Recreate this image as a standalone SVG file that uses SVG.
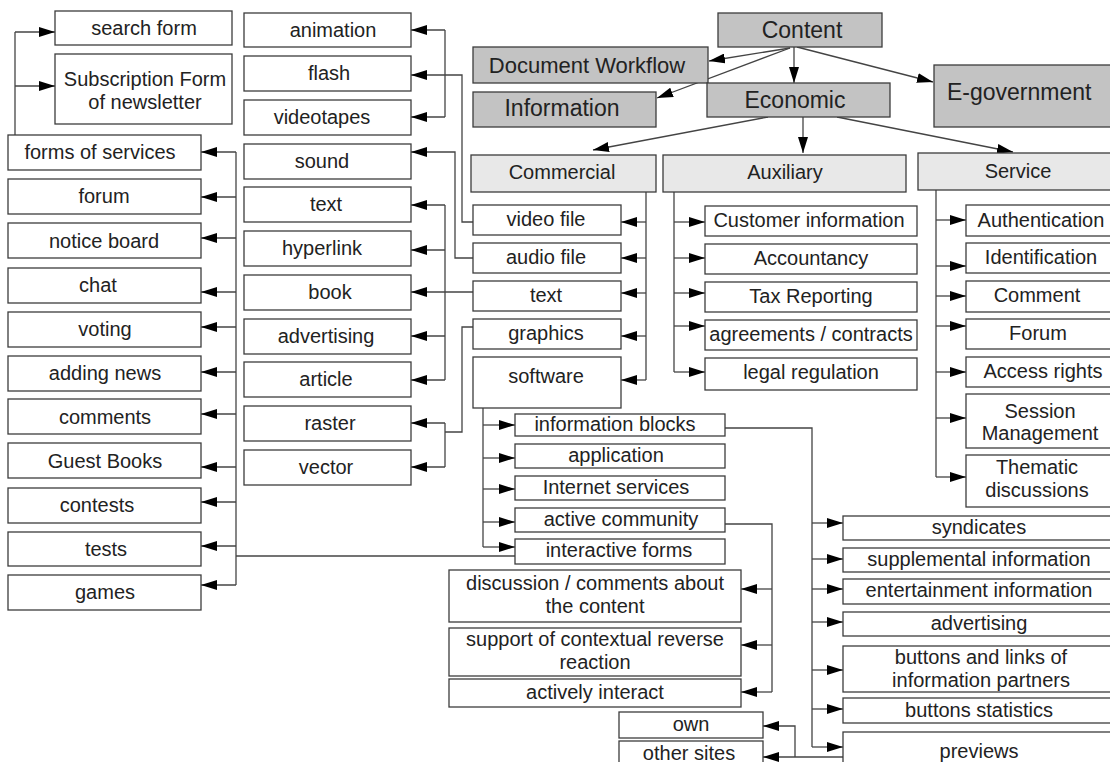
<svg xmlns="http://www.w3.org/2000/svg" width="1110" height="762" viewBox="0 0 1110 762">
<style>
  .box{fill:#fff;stroke:#3c3c3c;stroke-width:1.3}
  .hdr{fill:#c3c3c3;stroke:#3c3c3c;stroke-width:1.3}
  .sub{fill:#e8e8e8;stroke:#3c3c3c;stroke-width:1.3}
  text{font-family:"Liberation Sans",Arial,sans-serif;font-size:20px;fill:#222;text-anchor:middle}
  .big{font-size:23px}
  .ln{fill:none;stroke:#444;stroke-width:1.3}
  .ar{fill:none;stroke:#444;stroke-width:1.3;marker-end:url(#ah)}
</style>
<defs>
  <marker id="ah" viewBox="0 0 16 10" refX="16" refY="5" markerWidth="16" markerHeight="10" markerUnits="userSpaceOnUse" orient="auto">
    <path d="M0,0L16,5L0,10z" fill="#000"/>
  </marker>
</defs>
<rect width="1110" height="762" fill="#fff"/>

<!-- connectors -->
<g id="connectors">
  <!-- top level -->
  <path class="ar" d="M790,48L709,61"/>
  <path class="ar" d="M790,48L657,98"/>
  <path class="ar" d="M794,47V83"/>
  <path class="ar" d="M797,47L933,82"/>
  <path class="ar" d="M768,117L593,150"/>
  <path class="ar" d="M803,117V153"/>
  <path class="ar" d="M837,117L1013,152"/>

  <!-- forms of services -> search / subscription -->
  <path class="ln" d="M15,135V32"/>
  <path class="ar" d="M15,32H55"/>
  <path class="ar" d="M15,86H55"/>

  <!-- interactive forms -> left column -->
  <path class="ln" d="M236,152V585"/>
  <path class="ln" d="M515,556H236"/>
  <path class="ar" d="M236,152H201"/>
  <path class="ar" d="M236,197H201"/>
  <path class="ar" d="M236,238H201"/>
  <path class="ar" d="M236,292H201"/>
  <path class="ar" d="M236,327H201"/>
  <path class="ar" d="M236,372H201"/>
  <path class="ar" d="M236,414H201"/>
  <path class="ar" d="M236,467H201"/>
  <path class="ar" d="M236,502H201"/>
  <path class="ar" d="M236,546H201"/>
  <path class="ar" d="M236,585H201"/>

  <!-- video file -->
  <path class="ar" d="M473,222H462V75H411"/>
  <path class="ln" d="M445,30V117"/>
  <path class="ar" d="M445,30H411"/>
  <path class="ar" d="M445,117H411"/>
  <!-- audio file -->
  <path class="ar" d="M473,258H455V152H411"/>
  <!-- text -->
  <path class="ar" d="M473,292H411"/>
  <path class="ln" d="M445,205V380"/>
  <path class="ar" d="M445,205H411"/>
  <path class="ar" d="M445,250H411"/>
  <path class="ar" d="M445,336H411"/>
  <path class="ar" d="M445,380H411"/>
  <!-- graphics -->
  <path class="ln" d="M473,327H462V432H445"/>
  <path class="ln" d="M445,423V467"/>
  <path class="ar" d="M445,423H411"/>
  <path class="ar" d="M445,467H411"/>

  <!-- commercial -->
  <path class="ln" d="M646,192V380"/>
  <path class="ar" d="M646,222H621"/>
  <path class="ar" d="M646,258H621"/>
  <path class="ar" d="M646,293H621"/>
  <path class="ar" d="M646,336H621"/>
  <path class="ar" d="M646,380H621"/>

  <!-- auxiliary -->
  <path class="ln" d="M674,192V372"/>
  <path class="ar" d="M674,222H705"/>
  <path class="ar" d="M674,258H705"/>
  <path class="ar" d="M674,293H705"/>
  <path class="ar" d="M674,326H705"/>
  <path class="ar" d="M674,372H705"/>

  <!-- service -->
  <path class="ln" d="M936,190V477"/>
  <path class="ar" d="M936,220H966"/>
  <path class="ar" d="M936,266H966"/>
  <path class="ar" d="M936,296H966"/>
  <path class="ar" d="M936,326H966"/>
  <path class="ar" d="M936,372H966"/>
  <path class="ar" d="M936,418H966"/>
  <path class="ar" d="M936,477H966"/>

  <!-- software -->
  <path class="ln" d="M483,408V547"/>
  <path class="ar" d="M483,425H515"/>
  <path class="ar" d="M483,458H515"/>
  <path class="ar" d="M483,489H515"/>
  <path class="ar" d="M483,522H515"/>
  <path class="ar" d="M483,547H515"/>

  <!-- active community -->
  <path class="ln" d="M725,524H772V692"/>
  <path class="ar" d="M772,589H741"/>
  <path class="ar" d="M772,645H741"/>
  <path class="ar" d="M772,692H741"/>

  <!-- information blocks -->
  <path class="ln" d="M725,428H812V747"/>
  <path class="ar" d="M812,523H843"/>
  <path class="ar" d="M812,559H843"/>
  <path class="ar" d="M812,589H843"/>
  <path class="ar" d="M812,622H843"/>
  <path class="ar" d="M812,670H843"/>
  <path class="ar" d="M812,709H843"/>
  <path class="ar" d="M812,747H843"/>

  <!-- previews -->
  <path class="ar" d="M843,757H763"/>
  <path class="ar" d="M795,757V726H763"/>
</g>

<!-- top level nodes -->
<g id="content"><rect class="hdr" x="718" y="13" width="164" height="34"/><text class="big" x="802" y="38">Content</text></g>
<g id="document-workflow"><rect class="hdr" x="473" y="47" width="235" height="36"/><text class="big" x="587" y="73" style="font-size:22px">Document Workflow</text></g>
<g id="information"><rect class="hdr" x="473" y="92" width="183" height="35"/><text class="big" x="562" y="116">Information</text></g>
<g id="economic"><rect class="hdr" x="707" y="83" width="183" height="34"/><text class="big" x="795" y="108">Economic</text></g>
<g id="e-government"><rect class="hdr" x="934" y="65" width="185" height="62"/><text class="big" x="947" y="100" style="text-anchor:start">E-government</text></g>

<g id="commercial"><rect class="sub" x="471" y="155" width="185" height="37"/><text x="562" y="179">Commercial</text></g>
<g id="auxiliary"><rect class="sub" x="663" y="155" width="243" height="37"/><text x="785" y="179">Auxiliary</text></g>
<g id="service"><rect class="sub" x="918" y="153" width="200" height="37"/><text x="1018" y="178">Service</text></g>

<!-- left column -->
<g id="search-form"><rect class="box" x="55" y="11" width="177" height="34"/><text x="144" y="35">search form</text></g>
<g id="subscription-form"><rect class="box" x="55" y="54" width="177" height="70"/><text x="145" y="86">Subscription Form</text><text x="145" y="109">of newsletter</text></g>
<g id="forms-of-services"><rect class="box" x="8" y="135" width="193" height="35"/><text x="100" y="159">forms of services</text></g>
<g id="forum-l"><rect class="box" x="8" y="179" width="193" height="35"/><text x="104" y="203">forum</text></g>
<g id="notice-board"><rect class="box" x="8" y="223" width="193" height="35"/><text x="104" y="248">notice board</text></g>
<g id="chat"><rect class="box" x="8" y="268" width="193" height="35"/><text x="98" y="292">chat</text></g>
<g id="voting"><rect class="box" x="8" y="312" width="193" height="35"/><text x="105" y="336">voting</text></g>
<g id="adding-news"><rect class="box" x="8" y="356" width="193" height="35"/><text x="105" y="380">adding news</text></g>
<g id="comments"><rect class="box" x="8" y="399" width="193" height="35"/><text x="105" y="424">comments</text></g>
<g id="guest-books"><rect class="box" x="8" y="443" width="193" height="35"/><text x="105" y="468">Guest Books</text></g>
<g id="contests"><rect class="box" x="8" y="488" width="193" height="35"/><text x="97" y="512">contests</text></g>
<g id="tests"><rect class="box" x="8" y="532" width="193" height="34"/><text x="106" y="556">tests</text></g>
<g id="games"><rect class="box" x="8" y="575" width="193" height="35"/><text x="105" y="599">games</text></g>

<!-- media column -->
<g id="animation"><rect class="box" x="244" y="13" width="167" height="34"/><text x="333" y="37">animation</text></g>
<g id="flash"><rect class="box" x="244" y="56" width="167" height="35"/><text x="329" y="80">flash</text></g>
<g id="videotapes"><rect class="box" x="244" y="100" width="167" height="35"/><text x="322" y="124">videotapes</text></g>
<g id="sound"><rect class="box" x="244" y="144" width="167" height="35"/><text x="322" y="168">sound</text></g>
<g id="text-m"><rect class="box" x="244" y="187" width="167" height="35"/><text x="326" y="211">text</text></g>
<g id="hyperlink"><rect class="box" x="244" y="231" width="167" height="35"/><text x="322" y="255">hyperlink</text></g>
<g id="book"><rect class="box" x="244" y="275" width="167" height="35"/><text x="330" y="299">book</text></g>
<g id="advertising-m"><rect class="box" x="244" y="319" width="167" height="35"/><text x="326" y="343">advertising</text></g>
<g id="article"><rect class="box" x="244" y="362" width="167" height="35"/><text x="326" y="386">article</text></g>
<g id="raster"><rect class="box" x="244" y="406" width="167" height="35"/><text x="330" y="430">raster</text></g>
<g id="vector"><rect class="box" x="244" y="450" width="167" height="35"/><text x="326" y="474">vector</text></g>

<!-- commercial items -->
<g id="video-file"><rect class="box" x="473" y="205" width="148" height="30"/><text x="546" y="226">video file</text></g>
<g id="audio-file"><rect class="box" x="473" y="243" width="148" height="30"/><text x="546" y="264">audio file</text></g>
<g id="text-c"><rect class="box" x="473" y="281" width="148" height="30"/><text x="546" y="302">text</text></g>
<g id="graphics"><rect class="box" x="473" y="319" width="148" height="30"/><text x="546" y="340">graphics</text></g>
<g id="software"><rect class="box" x="473" y="357" width="148" height="51"/><text x="546" y="383">software</text></g>

<!-- auxiliary items -->
<g id="customer-information"><rect class="box" x="705" y="206" width="212" height="30"/><text x="809" y="227">Customer information</text></g>
<g id="accountancy"><rect class="box" x="705" y="244" width="212" height="30"/><text x="811" y="265">Accountancy</text></g>
<g id="tax-reporting"><rect class="box" x="705" y="282" width="212" height="30"/><text x="811" y="303">Tax Reporting</text></g>
<g id="agreements"><rect class="box" x="705" y="320" width="212" height="30"/><text x="811" y="341">agreements / contracts</text></g>
<g id="legal-regulation"><rect class="box" x="705" y="358" width="212" height="32"/><text x="811" y="379">legal regulation</text></g>

<!-- service items -->
<g id="authentication"><rect class="box" x="966" y="205" width="150" height="31"/><text x="1041" y="227">Authentication</text></g>
<g id="identification"><rect class="box" x="966" y="243" width="150" height="30"/><text x="1041" y="264">Identification</text></g>
<g id="comment"><rect class="box" x="966" y="281" width="150" height="31"/><text x="1037" y="302">Comment</text></g>
<g id="forum-s"><rect class="box" x="966" y="319" width="150" height="30"/><text x="1038" y="340">Forum</text></g>
<g id="access-rights"><rect class="box" x="966" y="357" width="150" height="30"/><text x="1043" y="378">Access rights</text></g>
<g id="session-management"><rect class="box" x="966" y="394" width="150" height="54"/><text x="1040" y="418">Session</text><text x="1040" y="440">Management</text></g>
<g id="thematic-discussions"><rect class="box" x="966" y="455" width="150" height="52"/><text x="1037" y="474">Thematic</text><text x="1037" y="497">discussions</text></g>

<!-- software items -->
<g id="information-blocks"><rect class="box" x="515" y="414" width="210" height="22"/><text x="615" y="431">information blocks</text></g>
<g id="application"><rect class="box" x="515" y="444" width="210" height="24"/><text x="616" y="462">application</text></g>
<g id="internet-services"><rect class="box" x="515" y="476" width="210" height="24"/><text x="616" y="494">Internet services</text></g>
<g id="active-community"><rect class="box" x="515" y="508" width="210" height="24"/><text x="621" y="526">active community</text></g>
<g id="interactive-forms"><rect class="box" x="515" y="539" width="210" height="25"/><text x="619" y="557">interactive forms</text></g>

<!-- active community items -->
<g id="discussion"><rect class="box" x="449" y="570" width="292" height="52"/><text x="595" y="590">discussion / comments about</text><text x="595" y="613">the content</text></g>
<g id="contextual-support"><rect class="box" x="449" y="628" width="292" height="48"/><text x="595" y="646">support of contextual reverse</text><text x="595" y="669">reaction</text></g>
<g id="actively-interact"><rect class="box" x="449" y="679" width="292" height="28"/><text x="595" y="699">actively interact</text></g>

<!-- previews items -->
<g id="own"><rect class="box" x="619" y="712" width="144" height="26"/><text x="691" y="731">own</text></g>
<g id="other-sites"><rect class="box" x="619" y="741" width="144" height="30"/><text x="689" y="760">other sites</text></g>

<!-- information blocks items -->
<g id="syndicates"><rect class="box" x="843" y="516" width="275" height="24"/><text x="979" y="534">syndicates</text></g>
<g id="supplemental-information"><rect class="box" x="843" y="548" width="275" height="24"/><text x="979" y="566">supplemental information</text></g>
<g id="entertainment-information"><rect class="box" x="843" y="579" width="275" height="25"/><text x="979" y="597">entertainment information</text></g>
<g id="advertising-r"><rect class="box" x="843" y="612" width="275" height="24"/><text x="979" y="630">advertising</text></g>
<g id="partner-buttons"><rect class="box" x="843" y="646" width="275" height="46"/><text x="981" y="664">buttons and links of</text><text x="981" y="687">information partners</text></g>
<g id="buttons-statistics"><rect class="box" x="843" y="698" width="275" height="25"/><text x="979" y="717">buttons statistics</text></g>
<g id="previews"><rect class="box" x="843" y="732" width="275" height="45"/><text x="979" y="758">previews</text></g>
</svg>
